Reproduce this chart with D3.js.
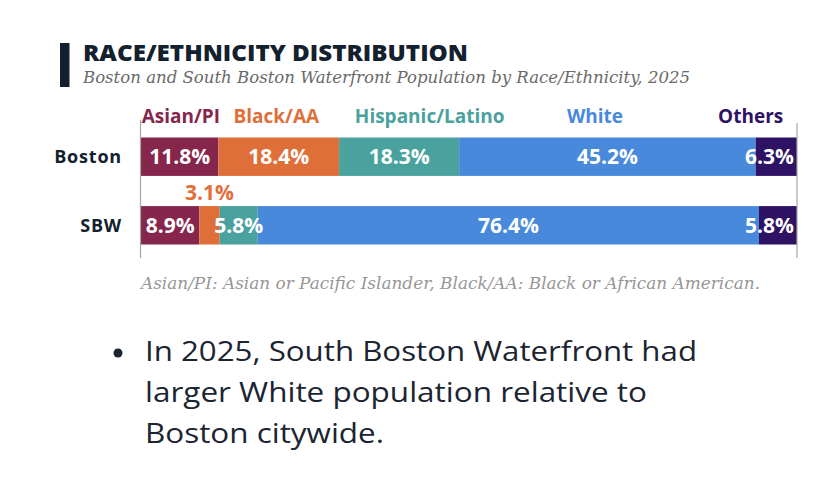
<!DOCTYPE html>
<html>
<head>
<meta charset="utf-8">
<script src="https://cdn.jsdelivr.net/npm/d3@7"></script>
<style>
  body { margin: 0; background: #fff; }
  svg { display: block; }
</style>
</head>
<body>
<div id="visContainer"></div>
<script>
'use strict';

// rows of the chart
const groups = ["Boston", "SBW"];

// race/ethnicity categories, in stacking order
const categories = ["Asian/PI", "Black/AA", "Hispanic/Latino", "White", "Others"];

// shares (%) for each row, same order as categories
const bostonShares = [11.8, 18.4, 18.3, 45.2, 6.3];
const sbwShares = [8.9, 3.1, 5.8, 76.4, 5.8];

// one colour per category
const catColors = ["#86264c", "#df6f38", "#49a29d", "#4889dc", "#2e1264"];

// bullet text under the chart
const noteLines = ["In 2025, South Boston Waterfront had",
  "larger White population relative to",
  "Boston citywide."];

// where the category header labels sit (percent on the x scale + anchor)
const headerPos = [[0.1, "start"], [14.1, "start"], [32.6, "start"], [69.2, "middle"], [97.9, "end"]];

var svg = d3.select('#visContainer')
    .append('svg')
    .attr('width', 836)
    .attr('height', 484);

var x = d3.scaleLinear().domain([0, 100]).range([141, 797]);
var y = d3.scaleBand().domain(groups).range([137.5, 244.5]).paddingInner(0.44).paddingOuter(0);

// build stacked rows from the share arrays
var rows = groups.map(function(g, i) {
  var shares = i === 0 ? bostonShares : sbwShares;
  var acc = 0;
  return shares.map(function(v, j) {
    var seg = {group: g, cat: j, value: v, x0: acc, x1: acc + v};
    acc += v;
    return seg;
  });
});

// title block
svg.append('rect')
  .attr('x', 60).attr('y', 43)
  .attr('width', 9.5).attr('height', 44)
  .attr('fill', '#13202e');

svg.append('text')
  .attr('x', 83).attr('y', 60.5)
  .attr('font-family', 'Open Sans, sans-serif')
  .attr('font-weight', 800)
  .attr('font-size', 22)
  .attr('fill', '#13202e')
  .attr('textLength', 385)
  .attr('lengthAdjust', 'spacingAndGlyphs')
  .text('RACE/ETHNICITY DISTRIBUTION');

svg.append('text')
  .attr('x', 83).attr('y', 82.5)
  .attr('font-family', 'DejaVu Serif, serif')
  .attr('font-style', 'italic')
  .attr('font-size', 17)
  .attr('fill', '#6a6a6a')
  .attr('textLength', 607)
  .attr('lengthAdjust', 'spacingAndGlyphs')
  .text('Boston and South Boston Waterfront Population by Race/Ethnicity, 2025');

// category headers
svg.append('g').selectAll('text')
  .data(categories)
  .join('text')
  .attr('x', function(d, i) { return x(headerPos[i][0]); })
  .attr('y', 123)
  .attr('text-anchor', function(d, i) { return headerPos[i][1]; })
  .attr('font-family', 'Open Sans, sans-serif')
  .attr('font-weight', 700)
  .attr('font-size', 19)
  .attr('fill', function(d, i) { return catColors[i]; })
  .text(function(d) { return d; });

// bars
var g = svg.append('g');
rows.forEach(function(row) {
  g.append('g').selectAll('rect')
    .data(row)
    .join('rect')
    .attr('x', function(d) { return x(d.x0); })
    .attr('y', function(d) { return y(d.group); })
    .attr('width', function(d) { return x(d.x1) - x(d.x0); })
    .attr('height', y.bandwidth())
    .attr('fill', function(d) { return catColors[d.cat]; });
});

// left and right guide lines
svg.append('line')
  .attr('x1', x(0) - 0.5).attr('x2', x(0) - 0.5)
  .attr('y1', 120).attr('y2', 258)
  .attr('stroke', '#a5a5a5').attr('stroke-width', 1.2);
svg.append('line')
  .attr('x1', x(100)).attr('x2', x(100))
  .attr('y1', 123).attr('y2', 258)
  .attr('stroke', '#a5a5a5').attr('stroke-width', 1.2);

// value labels
rows.forEach(function(row) {
  g.append('g').selectAll('text')
    .data(row)
    .join('text')
    .attr('x', function(d) {
      if (d.cat === categories.length - 1) return x(100) - 3;
      return x((d.x0 + d.x1) / 2);
    })
    .attr('y', function(d) {
      if (d.value < 4) return y(d.group) - 6;
      return y(d.group) + y.bandwidth() / 2 + 7.5;
    })
    .attr('text-anchor', function(d) { return d.cat === categories.length - 1 ? 'end' : 'middle'; })
    .attr('font-family', 'Open Sans, sans-serif')
    .attr('font-weight', 700)
    .attr('font-size', 21)
    .attr('fill', function(d) { return d.value < 4 ? catColors[d.cat] : '#fff'; })
    .text(function(d) { return d.value.toFixed(1) + '%'; });
});

// row labels
svg.append('g').selectAll('text')
  .data(groups)
  .join('text')
  .attr('x', 122)
  .attr('y', function(d) { return y(d) + y.bandwidth() / 2 + 6.5; })
  .attr('text-anchor', 'end')
  .attr('font-family', 'Open Sans, sans-serif')
  .attr('font-weight', 700)
  .attr('font-size', 18)
  .attr('letter-spacing', 0.8)
  .attr('fill', '#13202e')
  .text(function(d) { return d; });

// footnote
svg.append('text')
  .attr('x', 141).attr('y', 289)
  .attr('font-family', 'DejaVu Serif, serif')
  .attr('font-style', 'italic')
  .attr('font-size', 16)
  .attr('fill', '#979797')
  .attr('textLength', 619)
  .attr('lengthAdjust', 'spacingAndGlyphs')
  .text('Asian/PI: Asian or Pacific Islander, Black/AA: Black or African American.');

// bullet note
svg.append('circle')
  .attr('cx', 118).attr('cy', 353).attr('r', 4.5)
  .attr('fill', '#1b2431');

var noteWidths = [552, 502, 239];
svg.append('g').selectAll('text')
  .data(noteLines)
  .join('text')
  .attr('x', 145)
  .attr('y', function(d, i) { return 361 + i * 41; })
  .attr('font-family', 'Open Sans, sans-serif')
  .attr('font-size', 27.5)
  .attr('fill', '#1b2431')
  .attr('textLength', function(d, i) { return noteWidths[i]; })
  .attr('lengthAdjust', 'spacingAndGlyphs')
  .text(function(d) { return d; });
</script>
</body>
</html>
